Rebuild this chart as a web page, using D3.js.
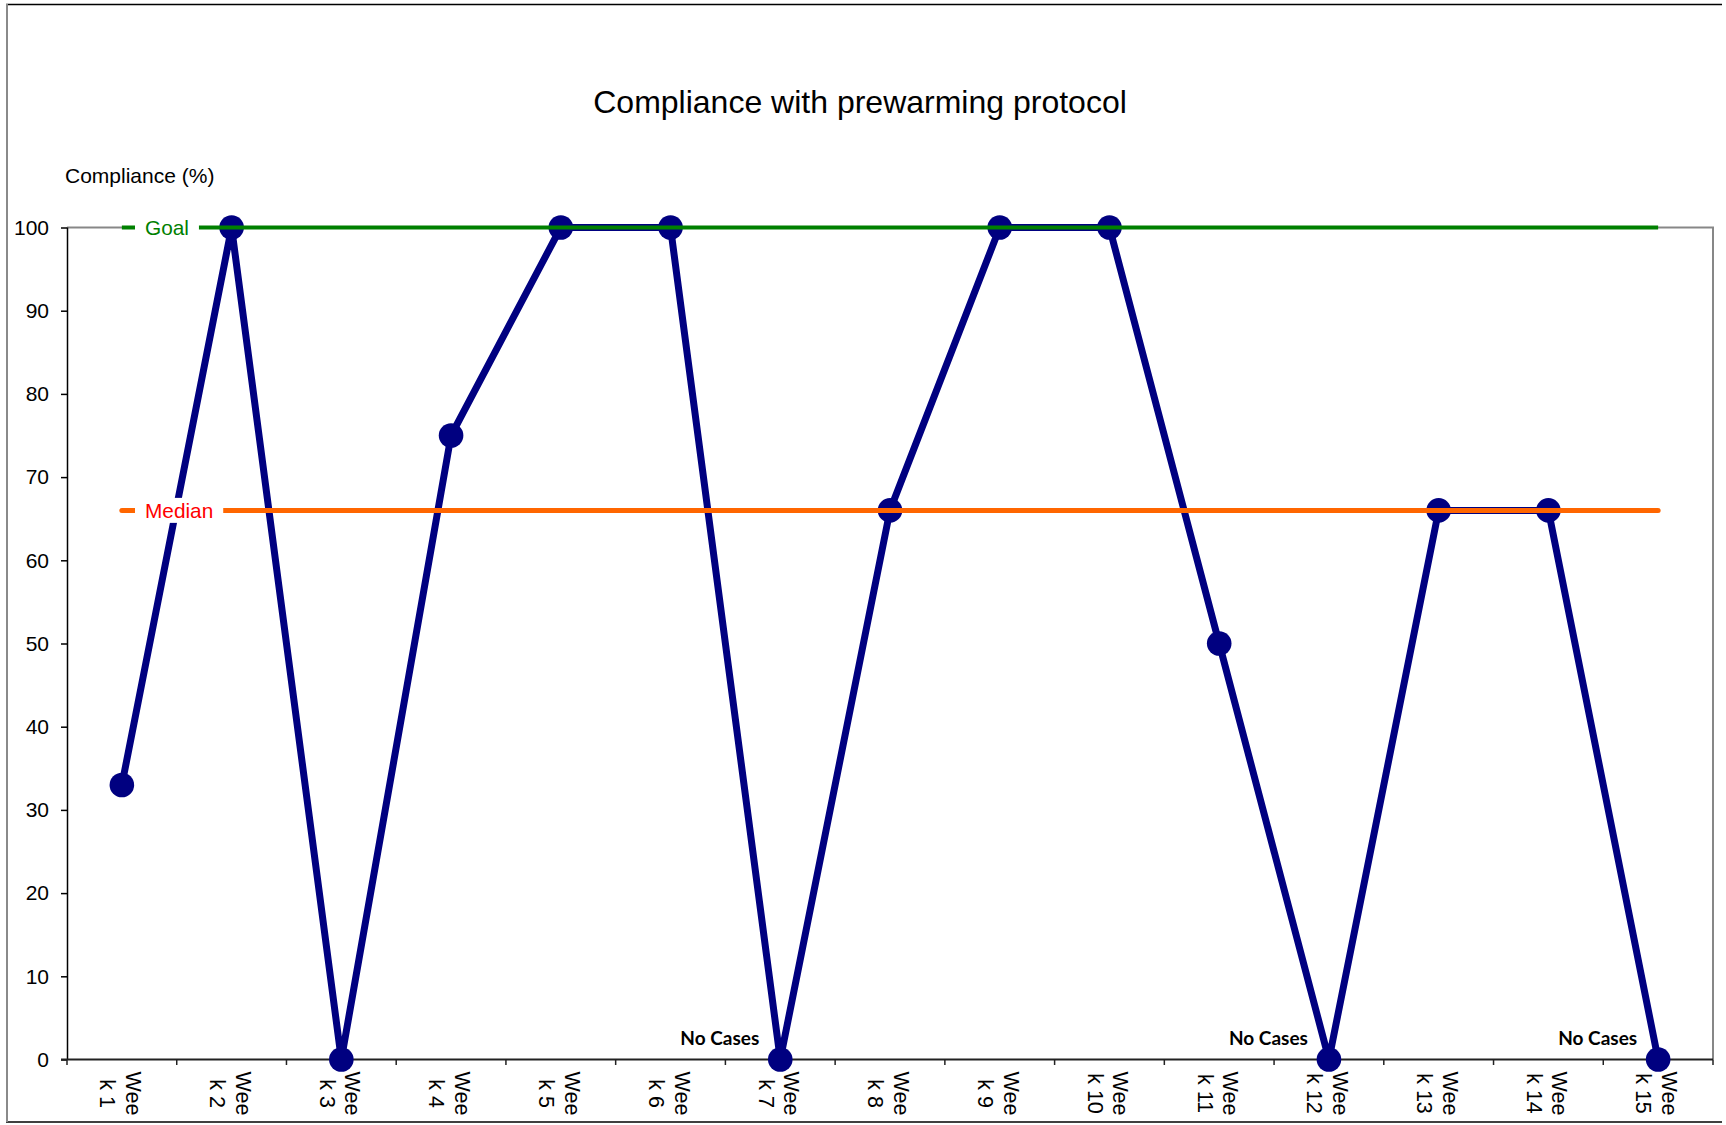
<!DOCTYPE html>
<html>
<head>
<meta charset="utf-8">
<script src="https://cdn.jsdelivr.net/npm/d3@7/dist/d3.min.js"></script>
<style>
  html, body { margin: 0; padding: 0; background: #fff; }
  svg { display: block; }
</style>
</head>
<body>
<script>
// ---- data ----
const weeks = ["Week 1","Week 2","Week 3","Week 4","Week 5","Week 6","Week 7","Week 8",
               "Week 9","Week 10","Week 11","Week 12","Week 13","Week 14","Week 15"];
const compliance = [33, 100, 0, 75, 100, 100, 0, 66, 100, 100, 50, 0, 66, 66, 0];
const goalValue = 100;
const medianValue = 66;
const yTicks = [0, 10, 20, 30, 40, 50, 60, 70, 80, 90, 100];
const noCaseWeeks = ["Week 7", "Week 12", "Week 15"];
const refLabels = ["Goal", "Median"];
const titleText = "Compliance with prewarming protocol";
const yTitle = "Compliance (%)";

// ---- layout ----
const W = 1726, H = 1125;
const plot = { left: 67, right: 1713, top: 227.5, bottom: 1059.5 };
const FONT = "'Liberation Sans', Arial, sans-serif";

const svg = d3.select("body").append("svg").attr("width", W).attr("height", H);

// outer frame
svg.append("line").attr("x1", 6).attr("x2", 1722).attr("y1", 4.5).attr("y2", 4.5)
  .attr("stroke", "#000").attr("stroke-width", 1.5);
svg.append("line").attr("x1", 6).attr("x2", 1722).attr("y1", 1122).attr("y2", 1122)
  .attr("stroke", "#000").attr("stroke-width", 1.5);
svg.append("line").attr("x1", 7).attr("x2", 7).attr("y1", 4).attr("y2", 1122)
  .attr("stroke", "#8a8a8a").attr("stroke-width", 2);

const x = d3.scaleBand().domain(weeks).range([plot.left, plot.right]).padding(0);
const y = d3.scaleLinear().domain([0, 100]).range([plot.bottom, plot.top]);
const cx = d => x(d) + x.bandwidth() / 2;

// title
svg.append("text").attr("x", 860).attr("y", 113).attr("text-anchor", "middle")
  .attr("font-family", FONT).attr("font-size", 32).attr("fill", "#000").text(titleText);
svg.append("text").attr("x", 65).attr("y", 183).attr("font-family", FONT)
  .attr("font-size", 21).attr("fill", "#000").text(yTitle);

// plot border (top, right)
svg.append("path")
  .attr("d", `M${plot.left},${plot.top}H${plot.right}V${plot.bottom}`)
  .attr("fill", "none").attr("stroke", "#878787").attr("stroke-width", 2);

// y axis
const yAxis = svg.append("g").attr("transform", `translate(${plot.left},0)`)
  .call(d3.axisLeft(y).tickValues(yTicks).tickSize(6).tickPadding(12));
yAxis.select(".domain").attr("stroke", "#000").attr("stroke-width", 1.5)
  .attr("d", `M0.5,${plot.top}V${plot.bottom}`);
yAxis.selectAll(".tick line").attr("stroke", "#000").attr("stroke-width", 1.5);
yAxis.selectAll(".tick text").attr("font-family", FONT).attr("font-size", 21).attr("fill", "#000");

// x axis
const xAxis = svg.append("g");
xAxis.append("line").attr("x1", plot.left - 6).attr("x2", plot.right)
  .attr("y1", plot.bottom).attr("y2", plot.bottom)
  .attr("stroke", "#222").attr("stroke-width", 2);
const boundaries = weeks.map(w => x(w)).concat([x(weeks[weeks.length - 1]) + x.bandwidth()]);
xAxis.selectAll("line.tk").data(boundaries).join("line").attr("class", "tk")
  .attr("x1", d => d).attr("x2", d => d)
  .attr("y1", plot.bottom).attr("y2", plot.bottom + 5.5)
  .attr("stroke", "#222").attr("stroke-width", 1.5);
const xl = xAxis.selectAll("g.xl").data(weeks).join("g").attr("class", "xl")
  .attr("transform", d => `translate(${cx(d)},1093.5) rotate(90)`);
xl.append("text").attr("text-anchor", "middle").attr("y", -4)
  .attr("font-family", FONT).attr("font-size", 21.5).attr("fill", "#000")
  .text(d => d.slice(0, 3));
xl.append("text").attr("text-anchor", "middle").attr("y", 21.7)
  .attr("font-family", FONT).attr("font-size", 21.5).attr("fill", "#000")
  .text(d => d.slice(3));

// data line + markers
const pts = weeks.map((w, i) => [cx(w), y(compliance[i])]);
svg.append("path").attr("d", d3.line()(pts)).attr("fill", "none")
  .attr("stroke", "#000080").attr("stroke-width", 7).attr("stroke-linejoin", "round");
svg.selectAll("circle.pt").data(pts).join("circle").attr("class", "pt")
  .attr("cx", d => d[0]).attr("cy", d => d[1]).attr("r", 12.3).attr("fill", "#000080");

// reference lines
const x0 = cx(weeks[0]), x1 = cx(weeks[weeks.length - 1]);
svg.append("line").attr("x1", x0).attr("x2", x1).attr("y1", y(goalValue)).attr("y2", y(goalValue))
  .attr("stroke", "#008000").attr("stroke-width", 4);
svg.append("line").attr("x1", x0).attr("x2", x1).attr("y1", y(medianValue)).attr("y2", y(medianValue))
  .attr("stroke", "#FF6600").attr("stroke-width", 5).attr("stroke-linecap", "round");

// reference labels with white boxes
const refVals = [goalValue, medianValue];
const refColors = ["#008000", "#FF0000"];
refLabels.forEach((lab, i) => {
  const g = svg.append("g");
  const t = g.append("text").attr("x", 145).attr("y", y(refVals[i]) + 7.5)
    .attr("font-family", FONT).attr("font-size", 20.8).attr("fill", refColors[i]).text(lab);
  const bb = t.node().getBBox();
  g.insert("rect", "text").attr("x", bb.x - 10).attr("width", bb.width + 20)
    .attr("y", y(refVals[i]) - 12.5).attr("height", 25).attr("fill", "#fff");
});

// "No Cases" annotations
svg.selectAll("text.nc").data(noCaseWeeks).join("text").attr("class", "nc")
  .attr("x", d => cx(d) - 21).attr("y", plot.bottom - 15)
  .attr("text-anchor", "end").attr("font-family", "Lato, 'Open Sans', sans-serif")
  .attr("font-weight", "bold").attr("font-size", 19).attr("fill", "#000")
  .text("No Cases");
</script>
</body>
</html>
